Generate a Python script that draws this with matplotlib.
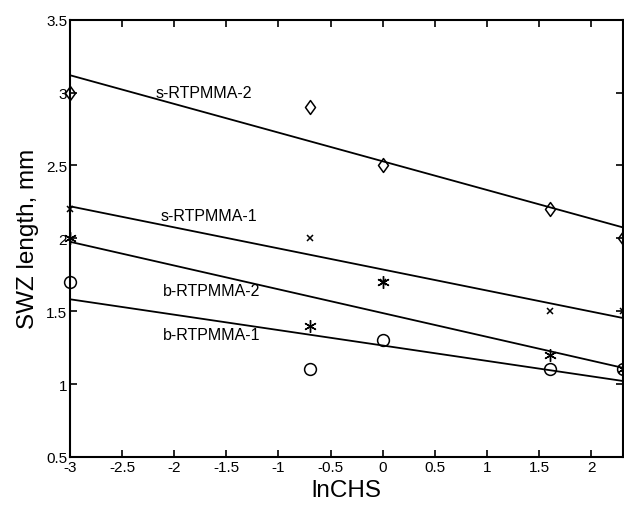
import matplotlib
matplotlib.use("Agg")
import numpy as np
import matplotlib.pyplot as plt
from matplotlib.path import Path

plt.rcParams["font.family"] = ["Liberation Sans", "DejaVu Sans"]

# lnCHS values (ln of 0.05, 0.5, 1, 5, 10)
ln_chs = np.log([0.05, 0.5, 1.0, 5.0, 10.0])

s_rtpmma_2 = [3.0, 2.9, 2.5, 2.2, 2.0]
s_rtpmma_1 = [2.2, 2.0, 1.7, 1.5, 1.5]
b_rtpmma_2 = [2.0, 1.4, 1.7, 1.2, 1.1]
b_rtpmma_1 = [1.7, 1.1, 1.3, 1.1, 1.1]

# tall open diamond like the matlab one
diamond = Path([(0, 1), (0.72, 0), (0, -1), (-0.72, 0), (0, 1)],
               [Path.MOVETO, Path.LINETO, Path.LINETO, Path.LINETO, Path.CLOSEPOLY])
asterisk = (6, 2, 0)

series = [
    ("s-RTPMMA-2", s_rtpmma_2, diamond, 10, 1.1, (-2.18, 3.0)),
    ("s-RTPMMA-1", s_rtpmma_1, "x", 5, 1.1, (-2.13, 2.16)),
    ("b-RTPMMA-2", b_rtpmma_2, asterisk, 9, 1.0, (-2.11, 1.64)),
    ("b-RTPMMA-1", b_rtpmma_1, "o", 8.5, 1.1, (-2.11, 1.34)),
]

fig = plt.figure(figsize=(6.24, 5.06), dpi=100)
ax = fig.add_axes([0.112, 0.095, 0.886, 0.864])

x_line = np.array([-3.0, np.log(10.0)])
for name, ys, mk, ms, mew, (tx, ty) in series:
    ax.plot(ln_chs, ys, linestyle="none", marker=mk, ms=ms,
            mfc="none", mec="black", mew=mew, clip_on=False)
    m, b = np.polyfit(ln_chs, ys, 1)
    ax.plot(x_line, m * x_line + b, color="black", lw=1.3)
    ax.text(tx, ty, name, fontsize=11.5, ha="left", va="center")

ax.set_xlim(-3, np.log(10.0))
ax.set_ylim(0.5, 3.5)
xt = [-3, -2.5, -2, -1.5, -1, -0.5, 0, 0.5, 1, 1.5, 2]
yt = [0.5, 1, 1.5, 2, 2.5, 3, 3.5]
ax.set_xticks(xt)
ax.set_xticklabels([f"{v:g}" for v in xt], fontsize=11)
ax.set_yticks(yt)
ax.set_yticklabels([f"{v:g}" for v in yt], fontsize=11)
ax.tick_params(direction="in", top=True, right=True, length=5, width=1.2, pad=2)
for sp in ax.spines.values():
    sp.set_linewidth(1.5)

ax.set_xlabel("lnCHS", fontsize=17.5, labelpad=4)
ax.set_ylabel("SWZ length, mm", fontsize=17.5, labelpad=5)

fig.savefig("out.png", dpi=100)
